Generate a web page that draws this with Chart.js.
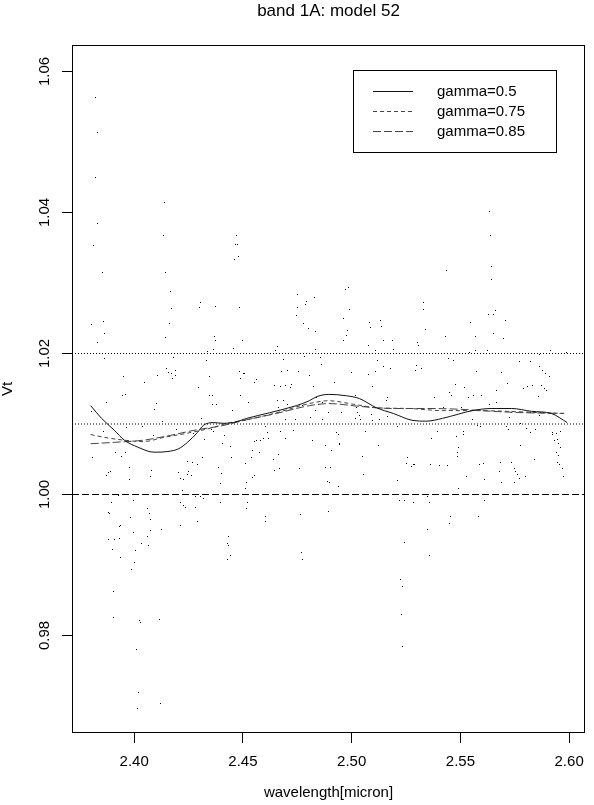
<!DOCTYPE html>
<html>
<head>
<meta charset="utf-8">
<title>band 1A: model 52</title>
<script src="https://cdn.jsdelivr.net/npm/chart.js@4.4.1/dist/chart.umd.min.js"></script>
<style>
  html, body { margin: 0; padding: 0; background: #fff; }
  canvas { display: block; }
</style>
</head>
<body>
<canvas id="vtChart" width="594" height="805"></canvas>
<script>
// Axis ticks and limits
const waveTicks = [2.40, 2.45, 2.50, 2.55, 2.60];
const vtTicks = [0.98, 1.00, 1.02, 1.04, 1.06];
const waveRange = [2.3714, 2.6073];
const vtRange = [0.96617, 1.06376];

// Horizontal guide levels (dotted, dotted, dashed)
const refLevels = [1.02, 1.01, 1.00];

// Observed points [wavelength, Vt], split by wavelength band
const obsShort = [
  [2.3824,1.0563],[2.3829,1.0513],[2.3820,1.0450],[2.4138,1.0414],[2.3832,1.0384],[2.4133,1.0367],[2.4471,1.0367],[2.3815,1.0353],
  [2.4467,1.0354],[2.4474,1.0355],[2.4461,1.0333],[2.4479,1.0338],[2.3856,1.0315],[2.4142,1.0315],[2.4165,1.0288],[2.4305,1.0272],
  [2.4300,1.0265],[2.4374,1.0267],[2.4483,1.0265],[2.4170,1.0264],[2.3802,1.0241],[2.3861,1.0245],[2.4161,1.0242],[2.3865,1.0228],
  [2.4142,1.0223],[2.4370,1.0224],[2.4376,1.0218],[2.3832,1.0215],[2.4497,1.0219],[2.4339,1.0203],[2.4365,1.0205],[2.4456,1.0207],
  [2.3865,1.0193],[2.4180,1.0195],[2.4333,1.0190],[2.4148,1.0179],[2.4156,1.0173],[2.4171,1.0171],[2.4188,1.0176],[2.4192,1.0169],
  [2.4106,1.0169],[2.4176,1.0164],[2.4347,1.0168],[2.4483,1.0175],[2.4502,1.0171],[2.4491,1.0164],[2.3952,1.0167],[2.4047,1.0159],
  [2.4297,1.0152],[2.3948,1.0141],[2.3959,1.0142],[2.4344,1.0141],[2.4359,1.0141],[2.4489,1.0140],[2.3874,1.0131],[2.4102,1.0129],
  [2.4361,1.0127],[2.4380,1.0127],[2.4452,1.0119],[2.4092,1.0121],[2.3805,1.0118],[2.4129,1.0104],[2.4311,1.0108],[2.4039,1.0096],
  [2.3965,1.0095],[2.4355,1.0092],[2.4365,1.0090],[2.3858,1.0090],[2.4195,1.0092],[2.4089,1.0083],[2.4271,1.0086],[2.4324,1.0078],
  [2.4414,1.0083],[2.3915,1.0060],[2.3942,1.0054],[2.3962,1.0059],[2.3809,1.0053],[2.4315,1.0053],[2.4448,1.0053],[2.4445,1.0068],
  [2.4408,1.0073],[2.4244,1.0047],[2.4267,1.0046],[2.4291,1.0043],[2.3880,1.0031],[2.4080,1.0034],[2.4202,1.0031],[2.3977,1.0038],
  [2.4389,1.0038],[2.4402,1.0030],[2.4252,1.0032],[2.4244,1.0028],[2.4262,1.0027],[2.3874,1.0027],[2.3892,1.0032],[2.4214,1.0023],
  [2.4226,1.0021],[2.4077,1.0025],[2.3979,1.0021],[2.4398,1.0016],[2.4221,1.0006],[2.3926,0.9998],[2.4282,0.9997],[2.4305,0.9997],
  [2.3897,0.9988],[2.3995,0.9991],[2.4061,0.9980],[2.3880,0.9975],[2.3886,0.9973],[2.4215,0.9988],[2.4227,0.9984],[2.4235,0.9981],
  [2.4283,0.9981],[2.4320,0.9994],[2.4395,0.9988],[2.4071,0.9973],[2.3985,0.9968],[2.4074,0.9965],[2.4289,0.9961],[2.4211,0.9956],
  [2.3932,0.9954],[2.3939,0.9956],[2.3995,0.9946],[2.4124,0.9950],[2.4074,0.9949],[2.4059,0.9940],[2.3883,0.9936],[2.3911,0.9936],
  [2.3933,0.9937],[2.4033,0.9931],[2.4065,0.9927],[2.3900,0.9922],[2.4429,0.9930],[2.4435,0.9928],[2.4432,0.9940],[2.4442,0.9913],
  [2.4429,0.9908],[2.4006,0.9920],[2.3935,0.9911],[2.4002,0.9904],[2.3989,0.9893],[2.3906,0.9863],[2.3906,0.9825],[2.4024,0.9821],
  [2.4029,0.9819],[2.4115,0.9823],[2.4011,0.9780],[2.4021,0.9719],[2.4120,0.9703],[2.4015,0.9697]
];
const obsMid = [
  [2.4985,1.0293],[2.4970,1.0291],[2.4752,1.0283],[2.4829,1.0280],[2.4792,1.0274],[2.4786,1.0270],[2.4753,1.0265],[2.4745,1.0254],
  [2.4988,1.0263],[2.4780,1.0243],[2.4964,1.0250],[2.4803,1.0235],[2.4832,1.0231],[2.5083,1.0244],[2.5085,1.0237],[2.5132,1.0247],
  [2.5139,1.0238],[2.4982,1.0233],[2.4976,1.0225],[2.4964,1.0219],[2.5147,1.0218],[2.5186,1.0218],[2.4658,1.0210],[2.4652,1.0204],
  [2.4832,1.0205],[2.5077,1.0212],[2.5111,1.0204],[2.5194,1.0205],[2.4685,1.0192],[2.4782,1.0196],[2.4858,1.0195],[2.5118,1.0190],
  [2.5147,1.0182],[2.4505,1.0172],[2.4679,1.0175],[2.4706,1.0176],[2.4755,1.0174],[2.4862,1.0185],[2.5000,1.0173],[2.5076,1.0170],
  [2.5109,1.0174],[2.5177,1.0179],[2.4564,1.0163],[2.4555,1.0159],[2.4646,1.0154],[2.4673,1.0153],[2.4697,1.0155],[2.4724,1.0156],
  [2.4718,1.0152],[2.4823,1.0153],[2.4808,1.0169],[2.4921,1.0159],[2.5167,1.0138],[2.5162,1.0134],[2.5094,1.0153],[2.5018,1.0141],
  [2.4840,1.0138],[2.4864,1.0131],[2.4848,1.0127],[2.4836,1.0119],[2.4658,1.0134],[2.4662,1.0124],[2.4705,1.0127],[2.4685,1.0134],
  [2.4527,1.0130],[2.4776,1.0126],[2.5024,1.0124],[2.5029,1.0117],[2.5035,1.0112],[2.5041,1.0107],[2.5017,1.0108],[2.5092,1.0113],
  [2.5098,1.0105],[2.4868,1.0107],[2.4812,1.0109],[2.4742,1.0107],[2.4695,1.0107],[2.5126,1.0107],[2.5058,1.0125],[2.4955,1.0116],
  [2.4894,1.0117],[2.5167,1.0111],[2.5211,1.0096],[2.4602,1.0096],[2.4674,1.0089],[2.4733,1.0091],[2.4615,1.0088],[2.4618,1.0079],
  [2.4595,1.0080],[2.4562,1.0076],[2.4553,1.0075],[2.4580,1.0076],[2.4695,1.0079],[2.4820,1.0076],[2.4944,1.0073],[2.5065,1.0089],
  [2.5124,1.0070],[2.4929,1.0088],[2.4941,1.0085],[2.4879,1.0069],[2.4909,1.0063],[2.4942,1.0071],[2.4542,1.0063],[2.4574,1.0059],
  [2.4538,1.0053],[2.4665,1.0057],[2.4641,1.0049],[2.5048,1.0054],[2.4644,1.0034],[2.4668,1.0037],[2.4758,1.0037],[2.4511,1.0044],
  [2.4553,1.0027],[2.4545,1.0024],[2.4517,1.0017],[2.4511,1.0009],[2.4880,1.0038],[2.4902,1.0039],[2.5055,1.0028],[2.4891,1.0018],
  [2.4898,1.0017],[2.4939,1.0012],[2.5256,1.0053],[2.5250,1.0044],[2.5276,1.0040],[2.5288,1.0043],[2.5212,1.0020],[2.5218,0.9992],
  [2.5242,0.9992],[2.5283,0.9988],[2.4523,0.9988],[2.4518,0.9980],[2.4603,0.9969],[2.4606,0.9962],[2.4895,0.9976],[2.4765,0.9972],
  [2.5242,0.9932],[2.4770,0.9918],[2.4774,0.9908],[2.5224,0.9880],[2.5236,0.9869],[2.5229,0.9830],[2.5233,0.9785]
];
const obsLong = [
  [2.5635,1.0401],[2.5638,1.0367],[2.5644,1.0324],[2.5641,1.0305],[2.5438,1.0318],[2.5332,1.0273],[2.5329,1.0263],[2.5661,1.0261],
  [2.5650,1.0256],[2.5629,1.0256],[2.5706,1.0247],[2.5547,1.0244],[2.5338,1.0234],[2.5570,1.0224],[2.5652,1.0229],[2.5430,1.0224],
  [2.5697,1.0221],[2.5305,1.0215],[2.5308,1.0211],[2.5544,1.0202],[2.5553,1.0200],[2.5571,1.0204],[2.5626,1.0204],[2.5812,1.0200],
  [2.5862,1.0199],[2.5915,1.0204],[2.5989,1.0201],[2.5445,1.0193],[2.5467,1.0190],[2.5774,1.0188],[2.5821,1.0188],[2.5865,1.0182],
  [2.5879,1.0176],[2.5891,1.0171],[2.5909,1.0167],[2.5298,1.0183],[2.5320,1.0179],[2.5292,1.0176],[2.5689,1.0173],[2.5576,1.0175],
  [2.5476,1.0156],[2.5452,1.0144],[2.5459,1.0141],[2.5517,1.0152],[2.5538,1.0137],[2.5558,1.0140],[2.5598,1.0140],[2.5665,1.0147],
  [2.5791,1.0150],[2.5808,1.0153],[2.5832,1.0154],[2.5874,1.0154],[2.5885,1.0150],[2.5898,1.0147],[2.5859,1.0139],[2.5715,1.0157],
  [2.5383,1.0138],[2.5421,1.0124],[2.5505,1.0124],[2.5668,1.0130],[2.5635,1.0127],[2.5733,1.0117],[2.5823,1.0117],[2.5862,1.0112],
  [2.5726,1.0109],[2.5714,1.0096],[2.5721,1.0092],[2.5594,1.0096],[2.5577,1.0098],[2.5556,1.0107],[2.5512,1.0089],[2.5514,1.0085],
  [2.5483,1.0082],[2.5395,1.0089],[2.5368,1.0080],[2.5776,1.0101],[2.5802,1.0093],[2.5821,1.0088],[2.5845,1.0092],[2.5923,1.0085],
  [2.5942,1.0086],[2.5935,1.0076],[2.5952,1.0072],[2.5947,1.0078],[2.5959,1.0066],[2.5924,1.0088],[2.5492,1.0066],[2.5486,1.0059],
  [2.5485,1.0054],[2.5286,1.0043],[2.5364,1.0043],[2.5406,1.0041],[2.5442,1.0041],[2.5588,1.0043],[2.5605,1.0044],[2.5683,1.0046],
  [2.5736,1.0046],[2.5776,1.0069],[2.5750,1.0037],[2.5753,1.0032],[2.5761,1.0028],[2.5770,1.0023],[2.5799,1.0025],[2.5680,1.0032],
  [2.5611,1.0021],[2.5688,1.0017],[2.5750,1.0017],[2.5529,1.0025],[2.5491,1.0009],[2.5841,1.0050],[2.5945,1.0046],[2.5958,1.0043],
  [2.5968,1.0037],[2.5976,1.0025],[2.5953,1.0056],[2.5942,1.0060],[2.5961,1.0089],[2.5350,0.9997],[2.5358,0.9989],[2.5611,0.9992],
  [2.5455,0.9969],[2.5450,0.9959],[2.5582,0.9969],[2.5350,0.9950],[2.5356,0.9914]
];

// Smoothed fits [wavelength, Vt]
const gamma05 = [
  [2.3800,1.0126],[2.3850,1.0108],[2.3909,1.0091],[2.3955,1.0077],[2.4018,1.0067],[2.4091,1.0060],[2.4155,1.0061],
  [2.4205,1.0065],[2.4245,1.0074],[2.4291,1.0088],[2.4318,1.0098],[2.4364,1.0102],[2.4409,1.0101],[2.4455,1.0102],
  [2.4518,1.0108],[2.4623,1.0116],[2.4745,1.0126],[2.4805,1.0133],[2.4841,1.0139],[2.4895,1.0142],[2.4977,1.0140],
  [2.5036,1.0136],[2.5114,1.0123],[2.5191,1.0115],[2.5282,1.0105],[2.5341,1.0104],[2.5418,1.0108],[2.5491,1.0114],
  [2.5555,1.0119],[2.5645,1.0122],[2.5736,1.0122],[2.5827,1.0118],[2.5918,1.0115],[2.5991,1.0102]
];
const gamma075 = [
  [2.3800,1.0085],[2.3864,1.0081],[2.3955,1.0077],[2.4041,1.0075],[2.4136,1.0081],[2.4245,1.0087],[2.4350,1.0094],
  [2.4427,1.0101],[2.4518,1.0106],[2.4655,1.0116],[2.4805,1.0129],[2.4895,1.0133],[2.5009,1.0128],[2.5114,1.0123],
  [2.5264,1.0122],[2.5418,1.0119],[2.5568,1.0119],[2.5718,1.0118],[2.5873,1.0116],[2.5977,1.0115]
];
const gamma085 = [
  [2.3800,1.0072],[2.3909,1.0074],[2.4041,1.0077],[2.4168,1.0084],[2.4291,1.0092],[2.4395,1.0097],[2.4518,1.0106],
  [2.4655,1.0115],[2.4805,1.0126],[2.4895,1.0129],[2.5036,1.0125],[2.5191,1.0122],[2.5341,1.0122],[2.5491,1.0121],
  [2.5645,1.0118],[2.5795,1.0116],[2.5977,1.0115]
];

const toXY = arr => arr.map(([x, y]) => ({ x, y }));

const fits = [
  { label: 'gamma=0.5', data: gamma05, color: '#111', dash: [] },
  { label: 'gamma=0.75', data: gamma075, color: '#444', dash: [4, 3] },
  { label: 'gamma=0.85', data: gamma085, color: '#444', dash: [8, 3] }
];
const refDash = [[1, 2], [1, 2], [7, 3]];

// single pixel marker, like pch="."
const dot = document.createElement('canvas');
dot.width = 1; dot.height = 1;
const dctx = dot.getContext('2d');
dctx.fillStyle = '#000';
dctx.fillRect(0, 0, 1, 1);

Chart.defaults.font.family = '"Liberation Sans", Arial, Helvetica, sans-serif';
Chart.defaults.font.size = 15;
Chart.defaults.color = '#000';

const fitSets = fits.map(f => ({
  label: f.label,
  data: toXY(f.data),
  showLine: true,
  borderColor: f.color,
  borderWidth: 1,
  borderDash: f.dash,
  pointRadius: 0,
  cubicInterpolationMode: 'monotone',
  order: 1
}));

const obsSet = {
  label: 'observed',
  data: toXY([...obsShort, ...obsMid, ...obsLong]),
  pointStyle: dot,
  pointRadius: 1,
  borderWidth: 0,
  showLine: false,
  order: 2
};

const refSets = refLevels.map((lvl, i) => ({
  label: 'ref ' + lvl,
  data: [{ x: waveRange[0], y: lvl }, { x: waveRange[1], y: lvl }],
  showLine: true,
  borderColor: '#000',
  borderWidth: 1,
  borderDash: refDash[i],
  pointRadius: 0,
  order: 3
}));

// crisp 1px markers
const crispDots = {
  id: 'crispDots',
  beforeDatasetsDraw(chart) { chart.ctx.imageSmoothingEnabled = false; },
  afterDatasetsDraw(chart) { chart.ctx.imageSmoothingEnabled = true; }
};

// box round the plot region
const plotFrame = {
  id: 'plotFrame',
  afterDraw(chart) {
    const { ctx, chartArea: a } = chart;
    ctx.save();
    ctx.strokeStyle = '#000';
    ctx.lineWidth = 1;
    ctx.strokeRect(Math.round(a.left) + 0.5, Math.round(a.top) + 0.5,
      Math.round(a.right - a.left) - 1, Math.round(a.bottom - a.top) - 1);
    ctx.restore();
  }
};

// legend box in the top right of the plot
const boxLegend = {
  id: 'boxLegend',
  afterDraw(chart) {
    const { ctx, chartArea } = chart;
    const left = Math.round(chartArea.left) + 281;
    const top = Math.round(chartArea.top) + 25;
    ctx.save();
    ctx.fillStyle = '#fff';
    ctx.fillRect(left, top, 203, 82);
    ctx.strokeStyle = '#000';
    ctx.lineWidth = 1;
    ctx.strokeRect(left + 0.5, top + 0.5, 203, 82);
    ctx.font = '15px "Liberation Sans", Arial, sans-serif';
    ctx.textBaseline = 'middle';
    fits.forEach((f, i) => {
      const y = top + 21 + i * 20 + 0.5;
      ctx.strokeStyle = f.color;
      ctx.setLineDash(f.dash);
      ctx.beginPath();
      ctx.moveTo(left + 20, y);
      ctx.lineTo(left + 60, y);
      ctx.stroke();
      ctx.fillStyle = '#000';
      ctx.fillText(f.label, left + 84, y);
    });
    ctx.restore();
  }
};

new Chart(document.getElementById('vtChart'), {
  type: 'scatter',
  data: { datasets: [...fitSets, obsSet, ...refSets] },
  options: {
    responsive: false,
    animation: false,
    events: [],
    layout: { padding: { top: 0, right: 3, bottom: 0, left: 0 } },
    plugins: {
      legend: { display: false },
      tooltip: { enabled: false },
      title: {
        display: true,
        text: 'band 1A: model 52',
        fullSize: false,
        color: '#000',
        font: { size: 17, weight: 'normal', lineHeight: 1.2 },
        padding: { top: 1, bottom: 23.6 }
      }
    },
    scales: {
      x: {
        type: 'linear',
        min: waveRange[0],
        max: waveRange[1],
        afterBuildTicks: s => { s.ticks = waveTicks.map(v => ({ value: v })); },
        afterFit: s => { s.height = 72; },
        ticks: { callback: v => v.toFixed(2), padding: 10, maxRotation: 0, autoSkip: false },
        grid: { drawOnChartArea: false, tickLength: 10, color: '#000' },
        border: { display: false },
        title: { display: true, text: 'wavelength[micron]', font: { size: 15, lineHeight: 1.2 }, padding: { top: 0, bottom: 3 } }
      },
      y: {
        type: 'linear',
        min: vtRange[0],
        max: vtRange[1],
        afterBuildTicks: s => { s.ticks = vtTicks.map(v => ({ value: v })); },
        afterFit: s => { s.width = 72; },
        ticks: { callback: v => v.toFixed(2), minRotation: 90, maxRotation: 90, crossAlign: 'center', padding: 3 },
        grid: { drawOnChartArea: false, tickLength: 10, color: '#000' },
        border: { display: false },
        title: { display: true, text: 'Vt', font: { size: 15, lineHeight: 1 }, padding: 0 }
      }
    }
  },
  plugins: [crispDots, plotFrame, boxLegend]
});
</script>
</body>
</html>
